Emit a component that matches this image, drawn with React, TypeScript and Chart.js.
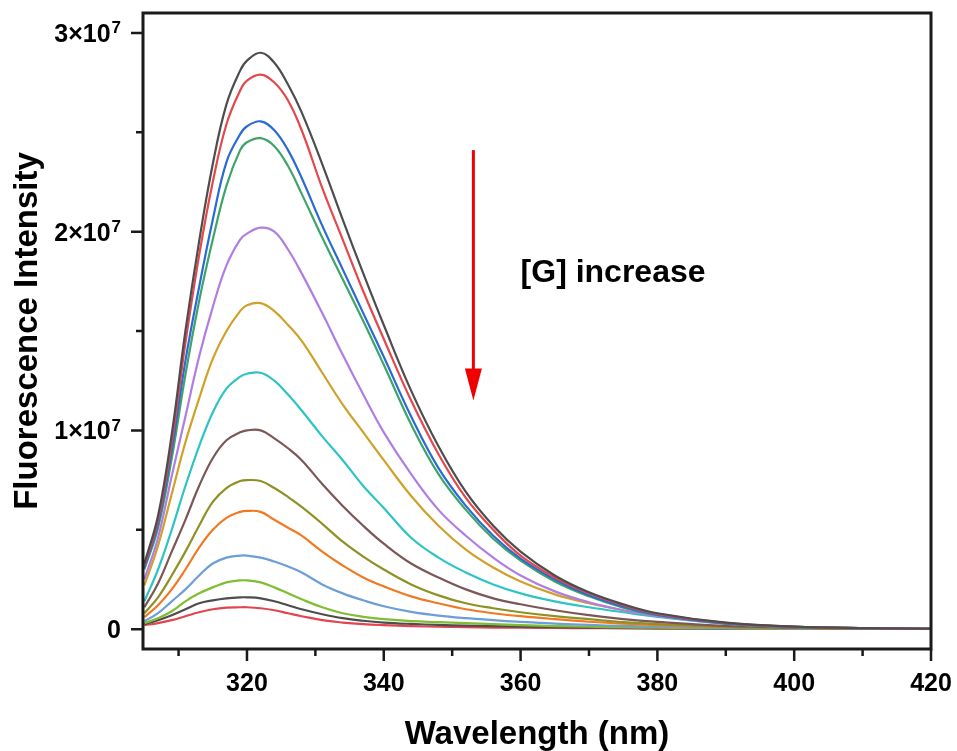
import React, { useEffect, useRef } from 'react';
import { Chart, registerables } from 'chart.js';

Chart.register(...registerables);

// ---------- data (intensity in units of 1e7) ----------
const SCALE = 1e7;
const wavelengths = [305, 307, 309, 311, 313, 315, 317, 319, 320, 322, 324, 326, 328, 331, 334, 337, 340, 344, 348, 352, 356, 360, 365, 370, 375, 380, 390, 400, 410, 420];

const s01 = [0.33, 0.57, 0.98, 1.50, 1.95, 2.34, 2.64, 2.81, 2.86, 2.90, 2.85, 2.74, 2.60, 2.34, 2.06, 1.79, 1.53, 1.20, 0.92, 0.69, 0.52, 0.39, 0.27, 0.185, 0.125, 0.08, 0.033, 0.013, 0.005, 0.002];
const s02 = [0.32, 0.55, 0.94, 1.44, 1.88, 2.25, 2.54, 2.71, 2.76, 2.79, 2.75, 2.66, 2.51, 2.22, 1.96, 1.70, 1.46, 1.15, 0.88, 0.66, 0.50, 0.37, 0.26, 0.18, 0.12, 0.077, 0.031, 0.012, 0.005, 0.002];
const s03 = [0.31, 0.53, 0.90, 1.35, 1.72, 2.06, 2.35, 2.49, 2.53, 2.555, 2.51, 2.41, 2.27, 2.03, 1.81, 1.59, 1.37, 1.07, 0.81, 0.62, 0.47, 0.355, 0.25, 0.17, 0.113, 0.072, 0.029, 0.011, 0.005, 0.002];
const s04 = [0.30, 0.51, 0.86, 1.28, 1.65, 1.96, 2.23, 2.41, 2.45, 2.47, 2.43, 2.33, 2.19, 1.97, 1.76, 1.55, 1.33, 1.03, 0.78, 0.60, 0.455, 0.345, 0.24, 0.165, 0.108, 0.07, 0.028, 0.011, 0.005, 0.002];
const s05 = [0.25, 0.46, 0.77, 1.07, 1.37, 1.62, 1.83, 1.96, 1.99, 2.02, 2.00, 1.91, 1.79, 1.59, 1.38, 1.18, 0.99, 0.78, 0.60, 0.47, 0.36, 0.27, 0.19, 0.135, 0.095, 0.065, 0.027, 0.01, 0.004, 0.002];
const s06 = [0.22, 0.42, 0.68, 0.94, 1.16, 1.36, 1.50, 1.60, 1.63, 1.64, 1.60, 1.53, 1.45, 1.29, 1.13, 0.99, 0.85, 0.67, 0.52, 0.40, 0.31, 0.24, 0.175, 0.13, 0.095, 0.068, 0.03, 0.012, 0.005, 0.002];
const s07 = [0.14, 0.30, 0.50, 0.72, 0.92, 1.09, 1.21, 1.27, 1.285, 1.29, 1.25, 1.18, 1.10, 0.97, 0.85, 0.72, 0.61, 0.46, 0.36, 0.285, 0.225, 0.18, 0.14, 0.11, 0.085, 0.062, 0.028, 0.011, 0.005, 0.002];
const s08 = [0.11, 0.23, 0.39, 0.55, 0.72, 0.86, 0.95, 0.99, 1.00, 1.00, 0.96, 0.91, 0.85, 0.73, 0.62, 0.52, 0.43, 0.33, 0.26, 0.20, 0.155, 0.125, 0.095, 0.07, 0.05, 0.036, 0.016, 0.007, 0.003, 0.001];
const s09 = [0.08, 0.16, 0.27, 0.39, 0.52, 0.64, 0.71, 0.745, 0.75, 0.745, 0.71, 0.665, 0.615, 0.53, 0.44, 0.365, 0.30, 0.225, 0.17, 0.13, 0.105, 0.085, 0.065, 0.05, 0.035, 0.025, 0.012, 0.005, 0.003, 0.001];
const s10 = [0.06, 0.12, 0.20, 0.30, 0.41, 0.50, 0.56, 0.59, 0.595, 0.59, 0.55, 0.51, 0.47, 0.39, 0.32, 0.26, 0.215, 0.165, 0.13, 0.10, 0.08, 0.065, 0.05, 0.037, 0.027, 0.02, 0.01, 0.005, 0.002, 0.001];
const s11 = [0.04, 0.08, 0.14, 0.20, 0.27, 0.33, 0.36, 0.37, 0.37, 0.36, 0.34, 0.315, 0.285, 0.225, 0.18, 0.145, 0.115, 0.087, 0.068, 0.055, 0.045, 0.036, 0.028, 0.021, 0.016, 0.012, 0.006, 0.003, 0.002, 0.001];
const s12 = [0.03, 0.055, 0.09, 0.14, 0.18, 0.21, 0.235, 0.245, 0.245, 0.235, 0.21, 0.18, 0.15, 0.11, 0.08, 0.062, 0.05, 0.04, 0.035, 0.03, 0.025, 0.02, 0.015, 0.012, 0.009, 0.007, 0.004, 0.002, 0.001, 0.001];
const s13 = [0.025, 0.045, 0.07, 0.10, 0.13, 0.145, 0.155, 0.16, 0.16, 0.155, 0.14, 0.12, 0.10, 0.075, 0.055, 0.042, 0.033, 0.026, 0.021, 0.018, 0.015, 0.012, 0.01, 0.008, 0.006, 0.005, 0.003, 0.002, 0.001, 0.001];
const s14 = [0.02, 0.03, 0.045, 0.065, 0.085, 0.10, 0.108, 0.11, 0.11, 0.105, 0.095, 0.08, 0.065, 0.045, 0.033, 0.025, 0.02, 0.015, 0.012, 0.01, 0.008, 0.007, 0.006, 0.005, 0.004, 0.003, 0.002, 0.001, 0.001, 0.001];

const seriesValues = [s01, s02, s03, s04, s05, s06, s07, s08, s09, s10, s11, s12, s13, s14];
const seriesColors = ['#4d4d4d', '#e4474c', '#2a6bd3', '#3fa468', '#b07de3', '#d0a128', '#2ec3c4', '#7d5656', '#8e9124', '#f07a22', '#6b9fd6', '#7fbd32', '#4d4d4d', '#e3454f'];

const xMajorTicks = [320, 340, 360, 380, 400, 420];
const xMinorTicks = [310, 330, 350, 370, 390, 410];
const yMajorTicks = [0, 1e7, 2e7, 3e7];
const yMinorTicks = [0.5e7, 1.5e7, 2.5e7];
const yTickMantissa = ['0', '1\u00d710', '2\u00d710', '3\u00d710'];
const yTickExponent = ['', '7', '7', '7'];

const xTitle = 'Wavelength (nm)';
const yTitle = 'Fluorescence Intensity';
const noteText = '[G] increase';
const noteAt = { x: 360, y: 1.748e7 };
const arrowAt = { x: 353.1, yFrom: 2.41e7, yTo: 1.15e7 };

const FONT = '"Liberation Sans", Arial, Helvetica, sans-serif';

const decorPlugin = {
  id: 'decor',
  afterDraw(chart: any) {
    const { ctx, chartArea: a, scales } = chart;
    const x = scales.x;
    const y = scales.y;
    ctx.save();
    // ticks
    ctx.strokeStyle = '#1a1a1a';
    ctx.lineWidth = 2.5;
    ctx.beginPath();
    xMajorTicks.forEach((v) => { const p = x.getPixelForValue(v); ctx.moveTo(p, a.bottom); ctx.lineTo(p, a.bottom + 12); });
    xMinorTicks.forEach((v) => { const p = x.getPixelForValue(v); ctx.moveTo(p, a.bottom); ctx.lineTo(p, a.bottom + 7); });
    yMajorTicks.forEach((v) => { const p = y.getPixelForValue(v); ctx.moveTo(a.left, p); ctx.lineTo(a.left - 12, p); });
    yMinorTicks.forEach((v) => { const p = y.getPixelForValue(v); ctx.moveTo(a.left, p); ctx.lineTo(a.left - 7, p); });
    ctx.stroke();
    // frame
    ctx.lineWidth = 3;
    ctx.strokeRect(a.left, a.top, a.right - a.left, a.bottom - a.top);
    // y tick labels with superscript
    ctx.fillStyle = '#000';
    ctx.textAlign = 'right';
    ctx.textBaseline = 'alphabetic';
    yMajorTicks.forEach((v, i) => {
      const p = y.getPixelForValue(v);
      let r = a.left - 22;
      const e = yTickExponent[i];
      if (e) {
        ctx.font = 'bold 17px ' + FONT;
        ctx.fillText(e, r, p + 0.5);
        r -= ctx.measureText(e).width + 1;
      }
      ctx.font = 'bold 25px ' + FONT;
      ctx.fillText(yTickMantissa[i], r, p + 9);
    });
    // arrow
    const ax = x.getPixelForValue(arrowAt.x);
    const ay1 = y.getPixelForValue(arrowAt.yFrom);
    const ay2 = y.getPixelForValue(arrowAt.yTo);
    ctx.strokeStyle = '#f00000';
    ctx.fillStyle = '#f00000';
    ctx.lineWidth = 3;
    ctx.beginPath();
    ctx.moveTo(ax, ay1);
    ctx.lineTo(ax, ay2 - 28);
    ctx.stroke();
    ctx.beginPath();
    ctx.moveTo(ax - 8.5, ay2 - 32);
    ctx.lineTo(ax + 8.5, ay2 - 32);
    ctx.lineTo(ax, ay2);
    ctx.closePath();
    ctx.fill();
    // note text
    ctx.fillStyle = '#000';
    ctx.textAlign = 'left';
    ctx.font = 'bold 32px ' + FONT;
    ctx.fillText(noteText, x.getPixelForValue(noteAt.x), y.getPixelForValue(noteAt.y));
    ctx.restore();
  },
};

export default function App() {
  const ref = useRef<HTMLCanvasElement | null>(null);
  useEffect(() => {
    if (!ref.current) return;
    const datasets = seriesValues.map((vals, i) => ({
      label: 'S' + (i + 1),
      data: wavelengths.map((w, j) => ({ x: w, y: vals[j] * SCALE })),
      borderColor: seriesColors[i],
      backgroundColor: seriesColors[i],
      borderWidth: 2.2,
      pointRadius: 0,
      fill: false,
      tension: 0.4,
    }));
    const chart = new Chart(ref.current, {
      type: 'line',
      data: { datasets },
      options: {
        responsive: false,
        animation: false,
        devicePixelRatio: 1,
        layout: { padding: { top: 13, right: 26, left: 0, bottom: 0 } },
        plugins: { legend: { display: false }, tooltip: { enabled: false } },
        scales: {
          x: {
            type: 'linear',
            min: 304.8,
            max: 420,
            afterBuildTicks: (s: any) => { s.ticks = xMajorTicks.map((v) => ({ value: v })); },
            afterFit: (s: any) => { s.height = 102; s.paddingLeft = 0; s.paddingRight = 0; },
            grid: { display: false, drawTicks: false },
            border: { display: false },
            ticks: {
              autoSkip: false,
              maxRotation: 0,
              padding: 20,
              color: '#000',
              font: { family: FONT, size: 25, weight: 'bold' },
              callback: (v: any) => String(v),
            },
            title: {
              display: true,
              text: xTitle,
              color: '#000',
              font: { family: FONT, size: 33, weight: 'bold', lineHeight: 1 },
              padding: { top: 0, bottom: 0 },
            },
          },
          y: {
            type: 'linear',
            min: -1e6,
            max: 3.1e7,
            afterFit: (s: any) => { s.width = 143; s.paddingTop = 0; s.paddingBottom = 0; },
            grid: { display: false, drawTicks: false },
            border: { display: false },
            ticks: { display: false },
            title: {
              display: true,
              text: yTitle,
              color: '#000',
              font: { family: FONT, size: 33, weight: 'bold', lineHeight: 1 },
              padding: { top: 11, bottom: 0 },
            },
          },
        },
      },
      plugins: [decorPlugin],
    });
    return () => chart.destroy();
  }, []);
  return (
    <div style={{ position: 'absolute', left: 0, top: 0, width: 957, height: 751, background: '#fff' }}>
      <canvas ref={ref} width={957} height={751} style={{ display: 'block', width: 957, height: 751 }} />
    </div>
  );
}
